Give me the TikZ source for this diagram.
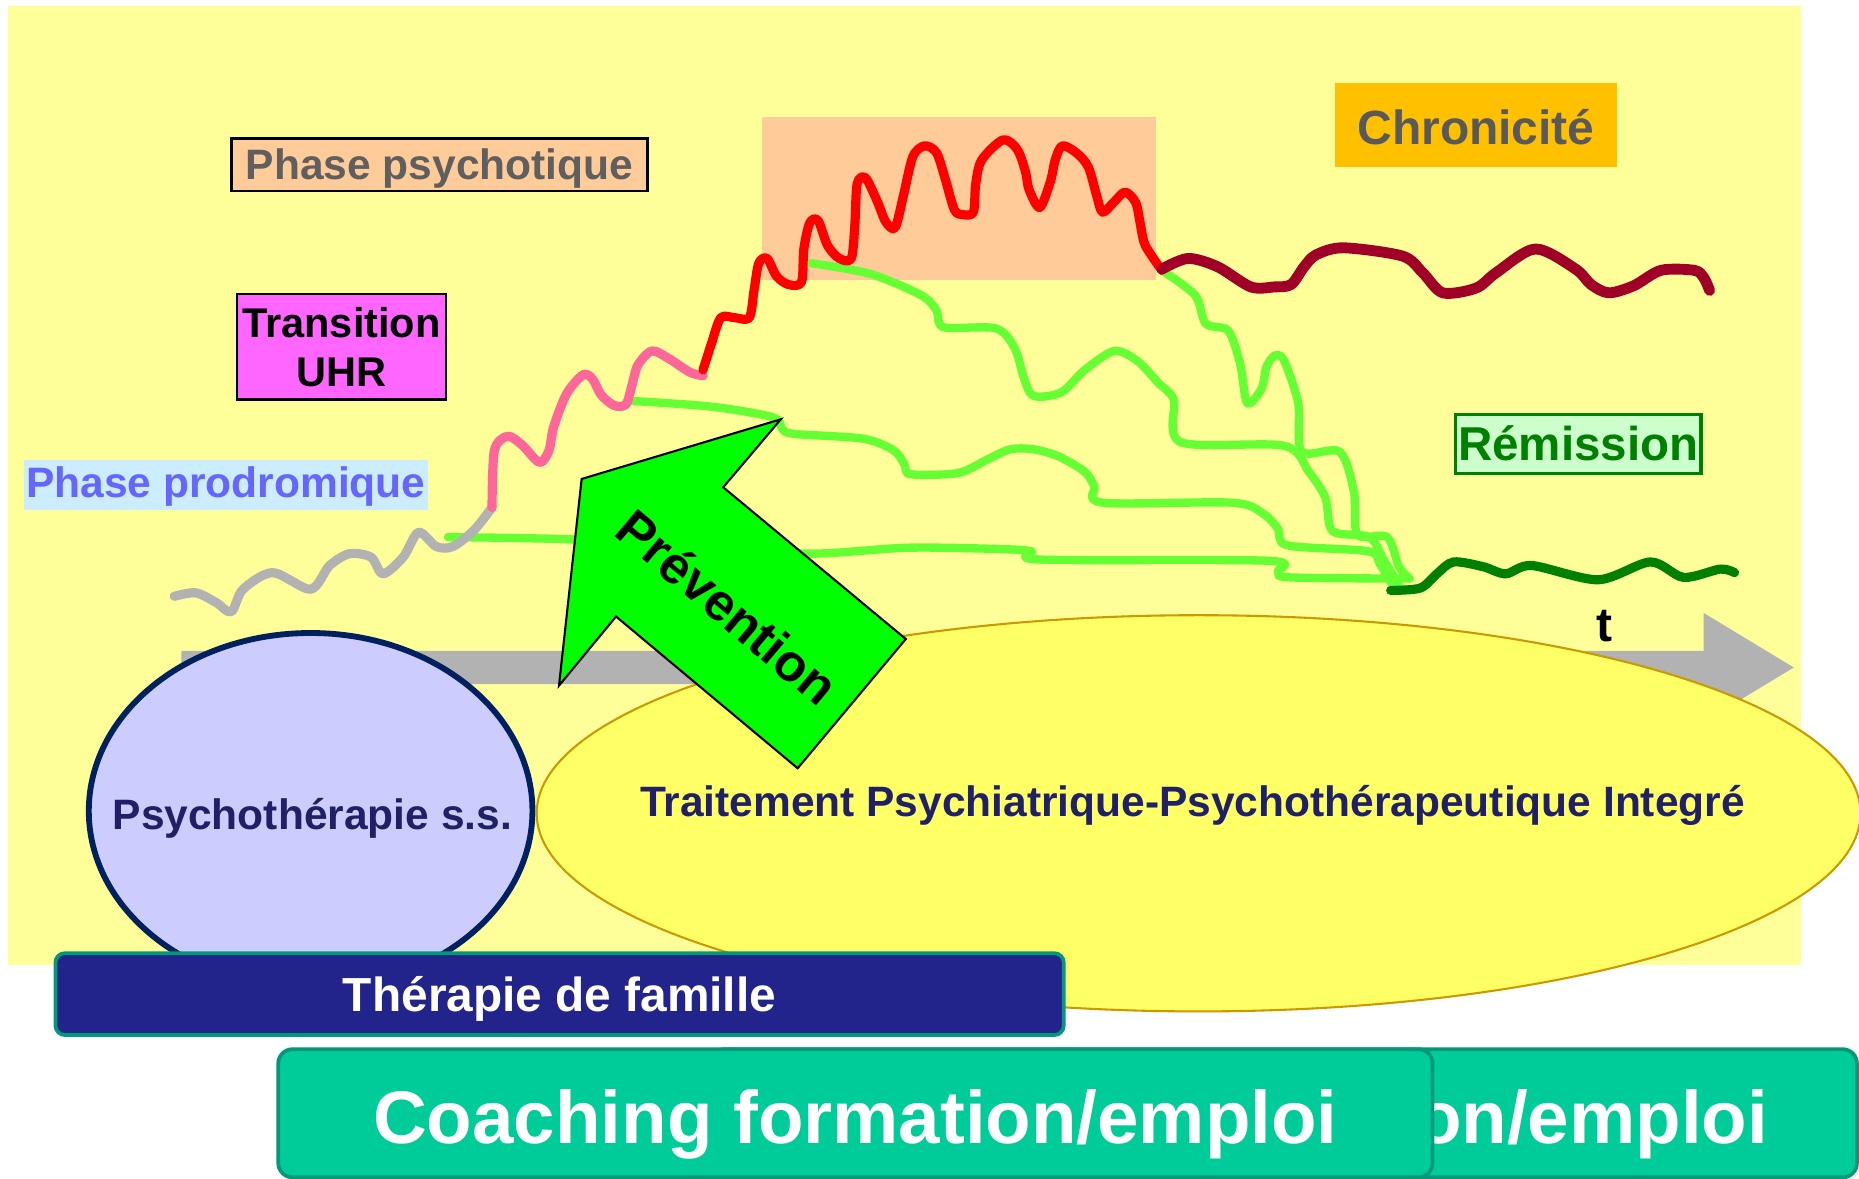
\documentclass[tikz,border=0pt]{standalone}
\usepackage{fontspec}
\setmainfont{Liberation Sans}
\definecolor{bgyellow}{HTML}{FFFF99}
\definecolor{peach}{HTML}{FFCC99}
\definecolor{uhrmag}{HTML}{FF66FF}
\definecolor{prodfill}{HTML}{CCECFF}
\definecolor{prodtext}{HTML}{6666FF}
\definecolor{psygray}{HTML}{5F5F5F}
\definecolor{chronfill}{HTML}{FFC000}
\definecolor{chrontext}{HTML}{595959}
\definecolor{remfill}{HTML}{CCFFCC}
\definecolor{remgreen}{HTML}{008000}
\definecolor{lavender}{HTML}{CCCCFF}
\definecolor{navyborder}{HTML}{002060}
\definecolor{navytext}{HTML}{202066}
\definecolor{ellyellow}{HTML}{FFFF66}
\definecolor{ellborder}{HTML}{CC9900}
\definecolor{arrowgray}{HTML}{B2B2B2}
\definecolor{prevgreen}{HTML}{00FF00}
\definecolor{famfill}{HTML}{23238C}
\definecolor{tealborder}{HTML}{00997A}
\definecolor{coachfill}{HTML}{00CC99}
\definecolor{lgreen}{HTML}{66FF33}
\definecolor{pinkc}{HTML}{FF6699}
\definecolor{grayc}{HTML}{B2B2B2}
\definecolor{darkredc}{HTML}{A00028}
\definecolor{dkgreenc}{HTML}{008000}
\newcommand{\fsz}[2]{\fontsize{#1pt}{#2pt}\selectfont}
\begin{document}
\begin{tikzpicture}[x=0.01cm,y=-0.01cm,
  lbl/.style={inner sep=0pt},
  curve/.style={line width=2.2pt, line cap=round, line join=round},
  gline/.style={curve, draw=lgreen, line width=2pt},
  coachbar/.style={rounded corners=0.12cm, draw=tealborder, line width=0.9pt, fill=coachfill, text=white, inner sep=0pt, minimum height=1.08cm, text height=0.51cm, text depth=0pt, font=\bfseries\fsz{17.87}{21}},
  coachtext/.style={inner sep=0pt, text=white, font=\bfseries\fsz{17.87}{21}},
  ]
\useasboundingbox (0,0) rectangle (1568,994);
\clip (0,0) rectangle (1568,994);
\fill[white] (0,0) rectangle (1568,994);
\fill[bgyellow] (7,5) rectangle (1519,814);
\fill[peach] (643,99) rectangle (975,236);

% green recovery curves
\draw[gline] plot[smooth,tension=0.5] coordinates {(378,453) (483,455) (600,462) (684,467) (765,462) (840,463) (870,465) (878,472) (1070,473) (1078,482) (1088,487) (1189,488)};
\draw[gline] plot[smooth,tension=0.5] coordinates {(530,338) (600,343) (652,352) (660,362) (670,366) (728,370) (754,380) (763,392) (768,400) (808,399) (832,388) (852,379) (872,379) (893,385) (915,398) (923,410) (930,424) (1039,424) (1065,433) (1078,446) (1086,460) (1154,465) (1164,476) (1176,496)};
\draw[gline] plot[smooth,tension=0.5] coordinates {(684,222) (734,231) (777,249) (790,262) (796,276) (840,277) (856,294) (864,320) (872,334) (895,331) (915,312) (940,296) (960,305) (977,323) (990,337) (996,373) (1083,376) (1104,398) (1118,420) (1124,448) (1155,453) (1167,472) (1180,494)};
\draw[gline] plot[smooth,tension=0.5] coordinates {(980,228) (1008,249) (1017,273) (1036,279) (1046,307) (1052,340) (1064,328) (1068,310) (1075,300) (1083,304) (1095,340) (1098,381) (1130,381) (1142,415) (1145,451) (1170,453) (1180,478) (1189,488)};

% illness course
\draw[curve, grayc] plot[smooth,tension=0.5] coordinates {(147,503) (165,500) (182,508) (195,516) (205,497) (230,483) (262,497) (278,477) (295,467) (313,470) (323,484) (340,470) (353,449) (368,461) (382,461) (400,447) (415,428)};
\draw[curve, pinkc] plot[smooth,tension=0.5] coordinates {(415,428) (417,380) (428,368) (440,375) (455,390) (463,380) (467,360) (478,332) (492,316) (500,320) (507,333) (518,342) (528,341) (533,325) (538,308) (550,296) (565,303) (582,314) (593,317)};
\draw[curve, red] plot[smooth,tension=0.5] coordinates {(593,312) (600,290) (608,268) (620,268) (632,268) (636,245) (640,222) (647,218) (655,233) (665,240) (676,238) (678,210) (683,188) (690,186) (698,207) (708,218) (718,218) (721,190) (723,155) (730,150) (740,170) (747,187) (755,192) (762,165) (770,132) (780,123) (790,129) (797,150) (805,177) (812,181) (821,179) (823,155) (828,135) (846,118) (858,126) (865,145) (868,160) (877,175) (886,153) (890,135) (896,123) (908,129) (918,141) (925,165) (930,179) (940,170) (949,162) (958,171) (962,190) (966,207) (980,228)};
\draw[curve, darkredc, line width=2.6pt] plot[smooth,tension=0.5] coordinates {(980,227) (1002,218) (1027,225) (1055,242) (1075,242) (1089,240) (1100,225) (1110,215) (1133,209) (1183,216) (1200,230) (1217,247) (1245,243) (1262,230) (1295,210) (1329,227) (1342,240) (1357,247) (1378,241) (1401,228) (1429,228) (1437,234) (1442,245)};
\draw[curve, dkgreenc] plot[smooth,tension=0.5] coordinates {(1173,498) (1198,496) (1212,484) (1226,474) (1251,478) (1270,484) (1292,477) (1348,489) (1392,474) (1420,487) (1451,480) (1463,483)};

% phase labels
\node (phpsy) [lbl, draw=black, line width=0.6pt, fill=peach, text=psygray, minimum width=3.51cm, minimum height=0.44cm, text height=0.254cm, text depth=0pt, font=\bfseries\fsz{10.2}{12}] at (370.7,139) {Phase psychotique};
\node (uhr) [lbl, draw=black, line width=0.6pt, fill=uhrmag, text=black, minimum width=1.76cm, minimum height=0.89cm, align=center, font=\bfseries\fsz{9.96}{11.8}] at (288,292.5) {Transition\\UHR};
\node (prod) [lbl, fill=prodfill, text=prodtext, minimum width=3.41cm, minimum height=0.42cm, text height=0.21cm, text depth=0pt, font=\bfseries\fsz{10.2}{12}] at (190.5,409) {Phase prodromique};
\node (chron) [lbl, fill=chronfill, text=chrontext, minimum width=2.38cm, minimum height=0.71cm, text height=0.334cm, text depth=0pt, font=\bfseries\fsz{11.5}{13}] at (1245,105.3) {Chronicité};
\node (remis) [lbl, draw=remgreen, line width=0.8pt, fill=remfill, text=remgreen, minimum width=2.07cm, minimum height=0.50cm, text height=0.28cm, text depth=0pt, font=\bfseries\fsz{11.4}{13}] at (1331.3,374.6) {Rémission};

% time axis
\fill[arrowgray] (153,549) -- (1437,549) -- (1437,517) -- (1513,563) -- (1437,609) -- (1437,577) -- (153,577) -- cycle;

% treatment ellipses
\filldraw[fill=lavender, draw=navyborder, line width=1.4pt] (262,684) ellipse [x radius=1.87cm, y radius=1.50cm];
\filldraw[fill=ellyellow, draw=ellborder, line width=0.5pt] (1011,686) ellipse [x radius=5.58cm, y radius=1.67cm];
\node (psyth) [lbl, anchor=base, text=navytext, font=\bfseries\fsz{10.2}{12}] at (263.5,700) {Psychothérapie s.s.};
\node (trait) [lbl, anchor=base, text=navytext, font=\bfseries\fsz{10.19}{12}] at (1005.8,688.8) {Traitement Psychiatrique-Psychothérapeutique Integré};
\node (tlab) [lbl, anchor=base, font=\bfseries\fsz{11.5}{13}] at (1353,541) {t};

% prevention arrow
\filldraw[fill=prevgreen, draw=black, line width=0.5pt, line join=miter] (490.6,404) -- (658.5,353.7) -- (610,411) -- (764,539) -- (672.8,648) -- (519.6,520) -- (471.5,578.3) -- cycle;
\node (prev) [lbl, rotate=-40.2, font=\bfseries\fsz{12.5}{15}] at (614,512) {Prévention};

% bars
\node (fam) [rounded corners=0.08cm, draw=tealborder, line width=0.9pt, fill=famfill, text=white, inner sep=0pt, minimum width=8.5cm, minimum height=0.69cm, text height=0.29cm, text depth=0pt, font=\bfseries\fsz{11.47}{13}] at (472,838.5) {Thérapie de famille};
\node (coach2) [coachbar, minimum width=9.67cm] at (1082.5,939) {};
\node (coach2t) [coachtext, anchor=base east] at (1492,964.5) {on/emploi};
\node (coach1) [coachbar, minimum width=9.73cm] at (721.5,939) {Coaching formation/emploi};
\end{tikzpicture}
\end{document}
